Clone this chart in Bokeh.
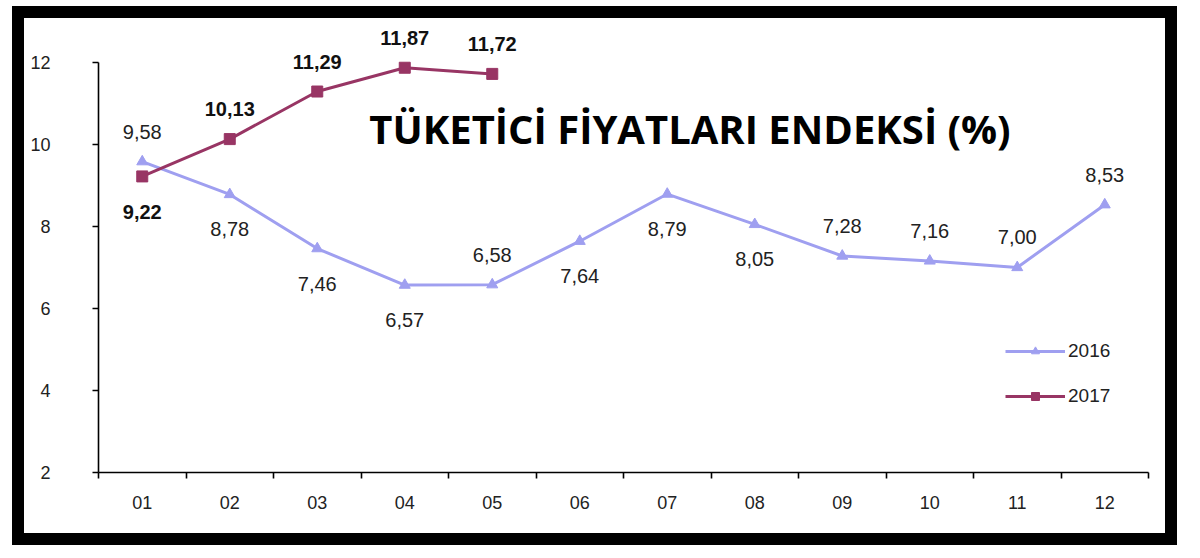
from bokeh.plotting import figure
from bokeh.models import FixedTicker, Label, Legend, LegendItem, ColumnDataSource, InlineStyleSheet, Range1d
from bokeh.embed import file_html
from bokeh.resources import INLINE
from bokeh.core.properties import value

months = ["01", "02", "03", "04", "05", "06", "07", "08", "09", "10", "11", "12"]
cpi_2016 = [9.58, 8.78, 7.46, 6.57, 6.58, 7.64, 8.79, 8.05, 7.28, 7.16, 7.00, 8.53]
cpi_2017 = [9.22, 10.13, 11.29, 11.87, 11.72]
# label placement: -1 above point, +1 below point
side_2016 = [-1, 1, 1, 1, -1, 1, 1, 1, -1, -1, -1, -1]
side_2017 = [1, -1, -1, -1, -1]
y_ticks = [2, 4, 6, 8, 10, 12]
title_text = "TÜKETİCİ FİYATLARI ENDEKSİ (%)"

C16 = "#9f9ff0"
C17 = "#983564"

x = list(range(1, len(months) + 1))

p = figure(frame_width=1050, frame_height=447,
           min_border_left=74, min_border_right=17, min_border_top=7, min_border_bottom=61,
           x_range=Range1d(0.5, 12.5), y_range=Range1d(2, 12.9),
           output_backend="svg", toolbar_location=None)
p.stylesheets = [InlineStyleSheet(css=":host { border: 12px solid #000; margin-left: 12px; margin-top: 6px; }")]
p.outline_line_color = None
p.xgrid.visible = False
p.ygrid.visible = False
p.background_fill_color = "white"
p.border_fill_color = "white"

# axes
p.xaxis.ticker = FixedTicker(ticks=x, minor_ticks=[i + 0.5 for i in range(0, 13)])
p.xaxis.major_label_overrides = {i: m for i, m in zip(x, months)}
p.xaxis.major_tick_out = 0
p.xaxis.major_tick_in = 0
p.xaxis.minor_tick_out = 6
p.xaxis.minor_tick_in = 0
p.xaxis.major_label_standoff = 17
p.yaxis.ticker = FixedTicker(ticks=y_ticks, minor_ticks=[])
p.yaxis.bounds = (2, 12)
p.yaxis.major_tick_out = 6
p.yaxis.major_tick_in = 0
p.yaxis.minor_tick_out = 0
p.yaxis.minor_tick_in = 0
p.yaxis.major_label_standoff = 42
for ax in (p.xaxis[0], p.yaxis[0]):
    ax.axis_line_color = "#000"
    ax.axis_line_width = 1.6
    ax.major_tick_line_color = "#000"
    ax.major_tick_line_width = 1.6
    ax.minor_tick_line_color = "#000"
    ax.minor_tick_line_width = 1.6
    ax.major_label_text_font = "Liberation Sans"
    ax.major_label_text_font_size = "18px"
    ax.major_label_text_color = "#222"

# series
s16 = ColumnDataSource(dict(x=x, y=cpi_2016,
                            lab=[f"{v:.2f}".replace(".", ",") for v in cpi_2016],
                            dy=[(-30 if s < 0 else 35) for s in side_2016]))
s17 = ColumnDataSource(dict(x=x[:len(cpi_2017)], y=cpi_2017,
                            lab=[f"{v:.2f}".replace(".", ",") for v in cpi_2017],
                            dy=[(-30 if s < 0 else 36) for s in side_2017]))

l16 = p.line("x", "y", source=s16, line_color=C16, line_width=3)
m16 = p.scatter("x", "y", source=s16, marker="triangle", size=11, fill_color=C16, line_color=C16)
l17 = p.line("x", "y", source=s17, line_color=C17, line_width=3)
m17 = p.scatter("x", "y", source=s17, marker="square", size=11, fill_color=C17, line_color=C17)

p.text("x", "y", text="lab", source=s16, y_offset="dy", text_align="center", text_baseline="middle",
       text_font=value("Liberation Sans"), text_font_size="20px", text_color="#222")
p.text("x", "y", text="lab", source=s17, y_offset="dy", text_align="center", text_baseline="middle",
       text_font=value("Liberation Sans"), text_font_size="20px", text_font_style="bold", text_color="#111")

p.add_layout(Label(x=7.26, y=10.39, text=title_text, text_align="center", text_baseline="middle",
                   text_font="Open Sans", text_font_size="40px", text_font_style="bold", text_color="#000"))

legend = Legend(items=[LegendItem(label="2016", renderers=[l16, m16]),
                       LegendItem(label="2017", renderers=[l17, m17])],
                location=(907, 65), orientation="vertical",
                glyph_width=60, glyph_height=20, label_height=20, spacing=23,
                label_standoff=3, padding=0, margin=0,
                border_line_color=None, background_fill_alpha=0,
                label_text_font="Liberation Sans", label_text_font_size="19px", label_text_color="#222")
p.add_layout(legend)

open("out.html", "w").write(file_html(p, INLINE))
